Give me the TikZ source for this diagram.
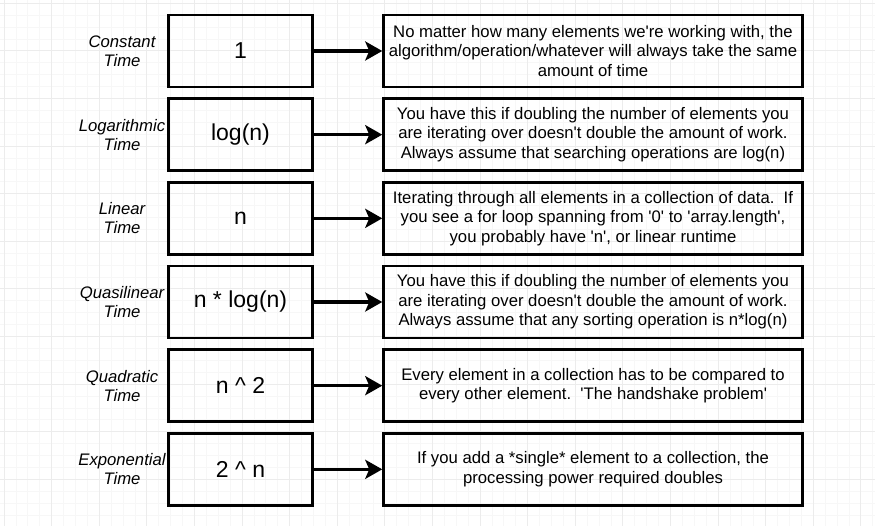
\documentclass[tikz,border=0pt]{standalone}
\usepackage{fontspec}
\setmainfont{Liberation Sans}[Ligatures=TeXOff]
\usetikzlibrary{arrows.meta}
\definecolor{minorgrid}{HTML}{F7F7F7}
\definecolor{majorgrid}{HTML}{ECECEC}
\tikzset{
  cbox/.style={draw, line width=2.5pt, minimum width=144pt, minimum height=72pt, inner sep=0pt,
    font=\fontsize{23}{27}\selectfont},
  dbox/.style={draw, line width=2.5pt, minimum width=419pt, minimum height=72pt, inner sep=0pt,
    align=center, font=\fontsize{16.7}{19.5}\selectfont},
  lbl/.style={align=center, inner sep=0pt, font=\fontsize{16.7}{19}\selectfont\itshape},
  arr/.style={-{Stealth[length=17pt,width=19pt,inset=4pt]}, line width=3.2pt},
  minorline/.style={draw=minorgrid, line width=0.8pt},
  majorline/.style={draw=majorgrid, line width=1pt}
}
\begin{document}
\begin{tikzpicture}[x=1pt,y=-1pt]
\useasboundingbox (0,0) rectangle (875,526);
\fill[white] (0,0) rectangle (875,526);
% grid
\foreach \i in {0,...,73} {\draw[minorline] ({4+11.9*\i},0) -- ({4+11.9*\i},526);}
\foreach \i in {0,...,43} {\draw[minorline] (0,{3.3+11.9*\i}) -- (875,{3.3+11.9*\i});}
\foreach \i in {0,...,18} {\draw[majorline] ({4+47.6*\i},0) -- ({4+47.6*\i},526);}
\foreach \i in {0,...,10} {\draw[majorline] (0,{3.3+47.6*\i}) -- (875,{3.3+47.6*\i});}

% rows
\node[lbl] (l1) at (122,51) {Constant\\Time};
\node[cbox] (c1) at (240.5,51) {1};
\node[dbox] (d1) at (593,51) {No matter how many elements we're working with, the\\algorithm/operation/whatever will always take the same\\amount of time};

\node[lbl] (l2) at (122,134.67) {Logarithmic\\Time};
\node[cbox] (c2) at (240.5,134.67) {log(n)};
\node[dbox] (d2) at (593,134.67) {You have this if doubling the number of elements you\\are iterating over doesn't double the amount of work.\\Always assume that searching operations are log(n)};

\node[lbl] (l3) at (122,218.33) {Linear\\Time};
\node[cbox] (c3) at (240.5,218.33) {n};
\node[dbox] (d3) at (593,218.33) {Iterating through all elements in a collection of data.\ \ If\\you see a for loop spanning from '0' to 'array.length',\\you probably have 'n', or linear runtime};

\node[lbl] (l4) at (122,302) {Quasilinear\\Time};
\node[cbox] (c4) at (240.5,302) {n * log(n)};
\node[dbox] (d4) at (593,302) {You have this if doubling the number of elements you\\are iterating over doesn't double the amount of work.\\Always assume that any sorting operation is n*log(n)};

\node[lbl] (l5) at (122,385.67) {Quadratic\\Time};
\node[cbox] (c5) at (240.5,385.67) {n \textasciicircum{} 2};
\node[dbox] (d5) at (593,385.67) {Every element in a collection has to be compared to\\every other element.\ \ 'The handshake problem'};

\node[lbl] (l6) at (122,469.33) {Exponential\\Time};
\node[cbox] (c6) at (240.5,469.33) {2 \textasciicircum{} n};
\node[dbox] (d6) at (593,469.33) {If you add a *single* element to a collection, the\\processing power required doubles};

\foreach \k in {1,...,6} {\draw[arr] (c\k.east) -- (d\k.west);}
\end{tikzpicture}
\end{document}
